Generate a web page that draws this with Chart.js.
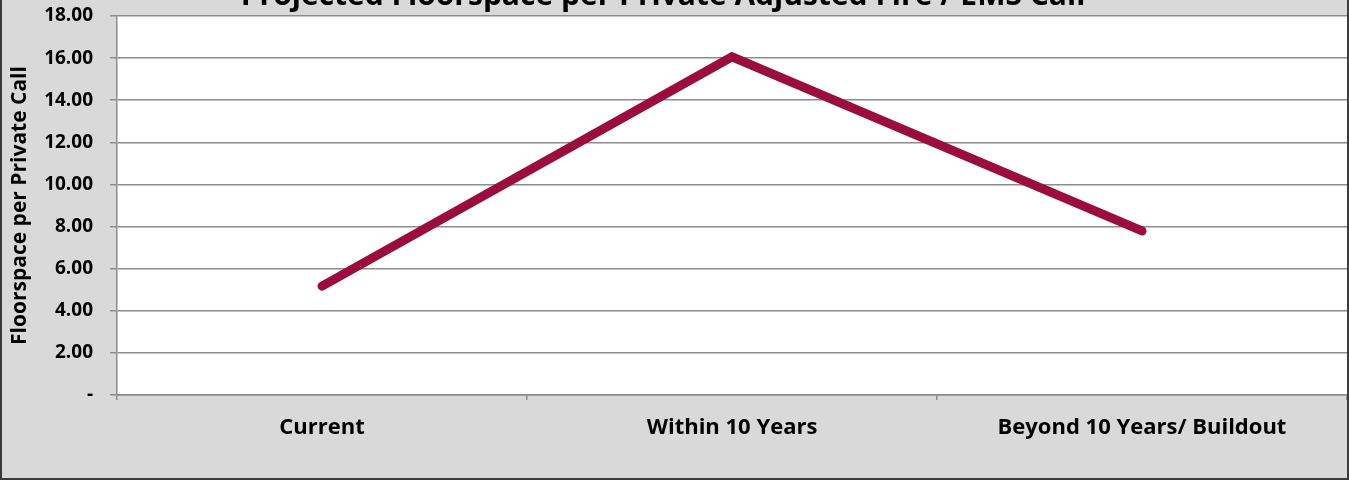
<!DOCTYPE html>
<html>
<head>
<meta charset="utf-8">
<script src="https://cdn.jsdelivr.net/npm/chart.js@4.4.1/dist/chart.umd.min.js"></script>
<style>
  html, body { margin: 0; padding: 0; overflow: hidden; background: #ffffff; }
  #frame {
    position: absolute;
    left: 0;
    top: -28px;
    width: 1345px;
    height: 504px;
    background: #d9d9d9;
    border: 2px solid #3c3c3c;
  }
</style>
</head>
<body>
<div id="frame"><canvas id="chart" width="1345" height="504"></canvas></div>
<script>
const categories = ["Current", "Within 10 Years", "Beyond 10 Years/ Buildout"]
const floorspacePerCall = [5.17, 16.06, 7.79]
const yTicks = [0, 2, 4, 6, 8, 10, 12, 14, 16, 18]
const chartTitle = "Projected Floorspace per Private Adjusted Fire / EMS Call"
const yAxisTitle = "Floorspace per Private Call"

const fontFamily = "'Open Sans', Lato, sans-serif"

// white plot area, like the Excel original
const plotBackground = {
  id: "plotBackground",
  beforeDraw(chart) {
    const { ctx, chartArea } = chart
    ctx.save()
    ctx.fillStyle = "#ffffff"
    ctx.fillRect(chartArea.left, chartArea.top, chartArea.right - chartArea.left, chartArea.bottom - chartArea.top)
    ctx.restore()
  },
}

// the title sits mostly above the visible frame
const topTitle = {
  id: "topTitle",
  afterDraw(chart) {
    const ctx = chart.ctx
    ctx.save()
    ctx.font = "bold 30px " + fontFamily
    ctx.fillStyle = "#000000"
    ctx.textAlign = "center"
    ctx.textBaseline = "alphabetic"
    ctx.fillText(chartTitle, 661, 31)
    ctx.restore()
  },
}

new Chart(document.getElementById("chart"), {
  type: "line",
  data: {
    labels: categories,
    datasets: [
      {
        label: yAxisTitle,
        data: floorspacePerCall,
        borderColor: "#9b0d3a",
        borderWidth: 9,
        borderCapStyle: "round",
        borderJoinStyle: "miter",
        pointRadius: 0,
        tension: 0,
        fill: false,
      },
    ],
  },
  options: {
    responsive: false,
    animation: false,
    layout: { padding: { top: 42, right: 0, left: 0, bottom: 0 } },
    plugins: {
      legend: { display: false },
      title: { display: false },
      tooltip: { enabled: false },
    },
    scales: {
      x: {
        offset: true,
        afterFit(scale) { scale.height = 83 },
        grid: {
          display: true,
          drawOnChartArea: false,
          offset: true,
          tickLength: 5,
          color: "#8c8c8c",
          lineWidth: 1.5,
        },
        border: { color: "#8c8c8c", width: 1.5 },
        ticks: {
          color: "#000000",
          padding: 15,
          maxRotation: 0,
          font: { family: fontFamily, size: 22, weight: "bold" },
        },
      },
      y: {
        min: 0,
        max: 18,
        afterFit(scale) { scale.width = 115 },
        afterBuildTicks(scale) { scale.ticks = yTicks.map((v) => ({ value: v })) },
        grid: {
          color: "#8c8c8c",
          lineWidth: 1.5,
          tickLength: 7,
        },
        border: { color: "#8c8c8c", width: 1.5 },
        ticks: {
          color: "#000000",
          padding: 17,
          font: { family: fontFamily, size: 19, weight: "bold" },
          callback: (value) => (value === 0 ? "-" : Number(value).toFixed(2)),
        },
        title: {
          display: true,
          text: yAxisTitle,
          color: "#000000",
          padding: { top: 5, bottom: 0 },
          font: { family: fontFamily, size: 21, weight: "bold" },
        },
      },
    },
  },
  plugins: [plotBackground, topTitle],
})
</script>
</body>
</html>
